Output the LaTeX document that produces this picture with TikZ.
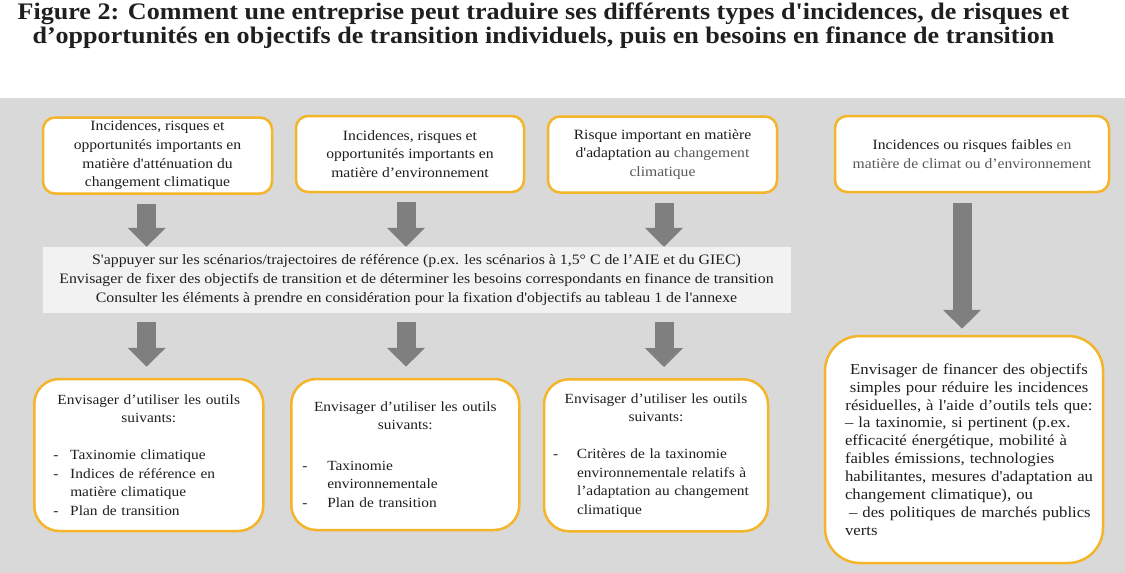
\documentclass[tikz,border=0pt]{standalone}
\usepackage{fontspec}
\setmainfont{Liberation Serif}[Ligatures=TeXOff, FakeStretch=1.1]
\usetikzlibrary{arrows.meta,calc}
\definecolor{bggray}{HTML}{D9D9D9}
\definecolor{bandgray}{HTML}{F2F2F2}
\definecolor{arrowgray}{HTML}{7F7F7F}
\definecolor{boxgold}{HTML}{F4B52A}
\definecolor{txt}{HTML}{1F1F1F}
\definecolor{lighttxt}{HTML}{595959}
\newcommand{\itm}[2]{\hspace*{#1}\makebox[#2][l]{-}}
\newcommand{\ctr}[1]{\makebox[\linewidth][c]{#1}}
\begin{document}
\begin{tikzpicture}[x=1pt,y=-1pt,
  titlefont/.style={font=\fontsize{23.7}{24}\selectfont\bfseries, text=txt, inner sep=0pt, anchor=base},
  topbox/.style={draw=boxgold, line width=2.5pt, fill=white, rounded corners=12pt,
    minimum height=76pt, inner sep=2pt, align=center, text=txt,
    font=\fontsize{14.2}{18.6}\selectfont},
  botbox/.style={draw=boxgold, line width=2.5pt, fill=white, rounded corners=25pt,
    inner xsep=6pt, inner ysep=3pt, align=left, text=txt,
    font=\fontsize{14}{18.5}\selectfont},
  bandbox/.style={fill=bandgray, minimum width=748pt, minimum height=66pt, inner sep=0pt,
    align=center, text=txt, font=\fontsize{14.4}{19}\selectfont},
  blockarrow/.style={draw=arrowgray, line width=19pt, -{Triangle[length=19pt,width=37pt]}}
]
\useasboundingbox (0,0) rectangle (1125,573);
\fill[bggray] (0,98) rectangle (1125,573);

% title
\node[titlefont] (t1) at (543.5,19) {Figure 2: Comment une entreprise peut traduire ses différents types d'incidences, de risques et};
\node[titlefont] (t2) at (543.5,43.5) {d’opportunités en objectifs de transition individuels, puis en besoins en finance de transition};

% top boxes
\node[topbox, minimum width=229pt] (b1) at (157.5,155.5) {Incidences, risques et\\opportunités importants en\\matière d'atténuation du\\changement climatique};
\node[topbox, minimum width=228pt] (b2) at (410,154) {Incidences, risques et\\opportunités importants en\\matière d’environnement};
\node[topbox, minimum width=229pt] (b3) at (662.5,154.5) {Risque important en matière\\d'adaptation au {\color{lighttxt}changement}\\{\color{lighttxt}climatique}};
\node[topbox, minimum width=274pt] (b4) at (972,154) {Incidences ou risques faibles {\color{lighttxt}en}\\{\color{lighttxt}matière de climat ou d’environnement}};

% band
\node[bandbox] (band) at (416.5,280) {S'appuyer sur les scénarios/trajectoires de référence (p.ex. les scénarios à 1,5° C de l’AIE et du GIEC)\\Envisager de fixer des objectifs de transition et de déterminer les besoins correspondants en finance de transition\\Consulter les éléments à prendre en considération pour la fixation d'objectifs au tableau 1 de l'annexe};

% bottom boxes
\node[botbox, text width=217pt, minimum height=152pt] (b5) at (148.75,455) {%
\ctr{Envisager d’utiliser les outils}\\\ctr{suivants:}\\[18.5pt]%
\itm{13pt}{17pt}Taxinomie climatique\\
\itm{13pt}{17pt}Indices de référence en\\
\hspace*{30pt}matière climatique\\
\itm{13pt}{17pt}Plan de transition};
\node[botbox, text width=216pt, minimum height=151pt] (b6) at (405.3,454.5) {%
\ctr{Envisager d’utiliser les outils}\\\ctr{suivants:}\\[22pt]%
\itm{5pt}{25pt}Taxinomie\\
\hspace*{30pt}environnementale\\
\itm{5pt}{25pt}Plan de transition};
\node[botbox, text width=212pt, minimum height=152pt] (b7) at (656,455.3) {%
\ctr{Envisager d’utiliser les outils}\\\ctr{suivants:}\\[18.5pt]%
\itm{3pt}{24pt}Critères de la taxinomie\\
\hspace*{27pt}environnementale relatifs à\\
\hspace*{27pt}l’adaptation au changement\\
\hspace*{27pt}climatique};
\node[botbox, rounded corners=35pt, text width=266pt, minimum height=227pt,
  font=\fontsize{15.2}{17.9}\selectfont] (b8) at (964,449.5) {%
\hspace*{14pt}\makebox[248pt][c]{Envisager de financer des objectifs}\\
\hspace*{14pt}\makebox[248pt][c]{simples pour réduire les incidences}\\
\hspace*{14pt}\makebox[248pt][c]{résiduelles, à l'aide d’outils tels que:}\\
\hspace*{14pt}– la taxinomie, si pertinent (p.ex.\\
\hspace*{14pt}efficacité énergétique, mobilité à\\
\hspace*{14pt}faibles émissions, technologies\\
\hspace*{14pt}habilitantes, mesures d'adaptation au\\
\hspace*{14pt}changement climatique), ou\\
\hspace*{18pt}– des politiques de marchés publics\\
\hspace*{14pt}verts};

% arrow columns
\coordinate (x1) at (146.7,0);
\coordinate (x2) at (406,0);
\coordinate (x3) at (664,0);
\coordinate (x4) at (962,0);

\draw[blockarrow] ($(b1.south -| x1)+(0,9)$) -- (band.north -| x1);
\draw[blockarrow] ($(b2.south -| x2)+(0,9)$) -- (band.north -| x2);
\draw[blockarrow] ($(b3.south -| x3)+(0,9)$) -- (band.north -| x3);
\draw[blockarrow] ($(b4.south -| x4)+(0,10)$) -- ($(b8.north -| x4)+(0,-6)$);
\draw[blockarrow] ($(band.south -| x1)+(0,9)$) -- ($(b5.north -| x1)+(0,-11)$);
\draw[blockarrow] ($(band.south -| x2)+(0,9)$) -- ($(b6.north -| x2)+(0,-11)$);
\draw[blockarrow] ($(band.south -| x3)+(0,9)$) -- ($(b7.north -| x3)+(0,-11)$);
\end{tikzpicture}
\end{document}
